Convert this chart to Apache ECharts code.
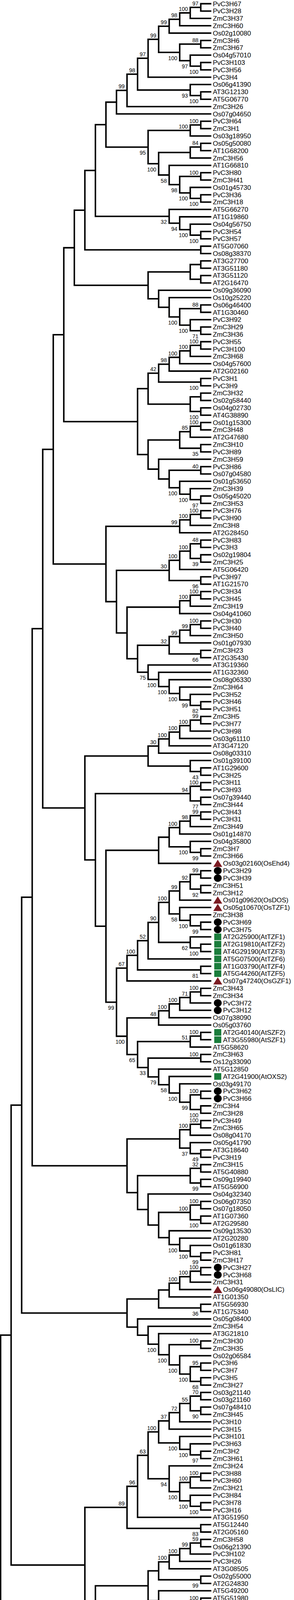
<!DOCTYPE html>
<html>
<head>
<meta charset="utf-8">
<script src="https://cdn.jsdelivr.net/npm/echarts@6/dist/echarts.min.js"></script>
<style>
html,body{margin:0;padding:0;background:#ffffff;}
#chart{width:752px;height:5743px;}
</style>
</head>
<body>
<div id="chart"></div>
<script>
// ---------------- DATA: tree topology (Newick pieces, bootstrap values as node labels) ----------------
const cladeA = "(((((((((PvC3H67,PvC3H28)97,ZmC3H37)100,ZmC3H60)98,Os02g10080)99,((ZmC3H6,ZmC3H67)88,(Os04g57010,(PvC3H103,PvC3H56)100)97)100)99,PvC3H4)97,(Os06g41390,(AT3G12130,AT5G06770)100)93)98,ZmC3H26)99,Os07g04650)";
const cladeB = "(((PvC3H64,ZmC3H1)100,Os03g18950)100,(((Os05g50080,AT1G68200)84,ZmC3H56),(AT1G66810,((PvC3H80,ZmC3H41)100,(Os01g45730,(PvC3H36,ZmC3H18)100)100)98)58)100)95";
const cladeC = "(AT5G66270,(AT1G19860,(Os04g56750,(PvC3H54,PvC3H57)100)100)94)32";
const cladeC2 = "(AT5G07060,Os08g38370)";
const cladeD = "(((AT3G27700,AT3G51180),(AT3G51120,AT2G16470)),(Os09g36090,(Os10g25220,((Os06g46400,AT1G30460)88,(PvC3H92,(ZmC3H29,ZmC3H36)71)100)100)))";
const cladeE1 = "((((((PvC3H55,PvC3H100)100,ZmC3H68)100,Os04g57600)100,AT2G02160)98,(PvC3H1,PvC3H9)100)42,((ZmC3H32,Os02g58440),(Os04g02730,AT4G38890)100))";
const cladeE2 = "((((Os01g15300,ZmC3H48)100,AT2G47680)85,(ZmC3H10,PvC3H89)35),(ZmC3H59,((PvC3H86,Os07g04580)40,(Os01g53650,(ZmC3H39,(Os05g45020,ZmC3H53)97)100)100)))";
const cladeF = "(((PvC3H76,PvC3H90)100,ZmC3H8)100,AT2G28450)99";
const cladeG4 = "((((PvC3H83,PvC3H3)48,(Os02g19804,ZmC3H25)39)100,AT5G06420)100,(PvC3H97,AT1G21570)96)30";
const cladeG7 = "(((((PvC3H30,PvC3H40)100,ZmC3H50)99,Os01g07930)99,(ZmC3H23,AT2G35430)66)32,(AT3G19360,(AT1G32360,(Os08g06330,(ZmC3H64,(PvC3H52,(PvC3H46,PvC3H51)82)99)100)100)100)75)";
const cladeG3 = "(((PvC3H34,PvC3H45)100,ZmC3H19)100,Os04g41060)";
const cladeH6 = "((((((ZmC3H5,PvC3H77)99,PvC3H98)100,Os03g61110)100,AT3G47120)100,Os08g03310)30,(Os01g39100,(AT1G29600,PvC3H25)43))";
const cladeH2 = "((PvC3H11,PvC3H93)100,(Os07g39440,ZmC3H44)77)94";
const cladeH5 = "(((((PvC3H43,PvC3H31)99,ZmC3H49)98,Os01g14870)100,(Os04g35800,(ZmC3H7,ZmC3H66)99)100),Os03g02160)";
const cladeH8a = "((((((((PvC3H29,PvC3H39)99,(ZmC3H51,ZmC3H12)92)92,Os01g09620)99,(Os05g10670,(ZmC3H38,(PvC3H69,PvC3H75)99)100)58)100,(AT2G25900,(AT2G19810,AT4G29190)100)62)90,AT5G07500)52,(AT1G03790,AT5G44260)81)100,Os07g47240)67";
const cladeH8b = "((((((ZmC3H43,ZmC3H34)100,PvC3H72)71,PvC3H12)100,Os07g38090)100,Os05g03760)48,(((AT2G40140,AT3G55980)100,AT5G58620)51,((ZmC3H63,Os12g33090)100,(AT5G12850,(AT2G41900,(Os03g49170,((PvC3H62,PvC3H66)100,(ZmC3H4,ZmC3H28)100)99)100)58)79)33)65)100";
const cladeI3 = "(((PvC3H49,ZmC3H65)100,Os08g04170)100,(Os05g41790,(AT3G18640,PvC3H19)49)37)";
const cladeI7 = "(((ZmC3H15,AT5G40880)32,(Os09g19940,AT5G56900)99),(Os04g32340,(((Os06g07350,Os07g18050)100,(AT1G07360,AT2G29580)100)100,(Os09g13530,(AT2G20280,(Os01g61830,(PvC3H81,ZmC3H17)99)100)100))))";
const cladeJ5 = "(((((PvC3H27,PvC3H68)100,ZmC3H31)100,Os06g49080)100,AT1G01350),(AT5G56930,AT1G75340)36)";
const cladeJ7 = "(Os05g08400,(ZmC3H54,(AT3G21810,((ZmC3H30,ZmC3H35)100,(Os02g06584,((PvC3H6,PvC3H7)95,(PvC3H5,ZmC3H27)68)100)100)100)100))";
const cladeK8 = "((((((((Os03g21140,Os03g21160)70,(Os07g48410,ZmC3H45)90)55,PvC3H10)72,PvC3H15)37,(PvC3H101,(PvC3H63,(ZmC3H2,ZmC3H61)97)100)100)100,(ZmC3H24,(((PvC3H88,PvC3H60)100,ZmC3H21)100,(PvC3H84,(PvC3H78,PvC3H16)100)100)100)94)63,AT3G51950)96,(AT5G12440,AT2G05160)83)89";
const cladeK6 = "((((((ZmC3H58,Os06g21390)59,PvC3H102)99,PvC3H26)100,AT3G08505)100,(Os02g55000,AT2G24830)99),(AT5G49200,((AT5G51980,AT4G25440)100,(Os02g45480,(ZmC3H33,(PvC3H2,PvC3H95)100)93)100)100)100)";
const cladeK10 = "(PvC3H94,(((PvC3H8,Os02g35150)100,AT1G10320)100,(PvC3H96,(((((ZmC3H42,PvC3H14)96,PvC3H85)100,Os09g31482)96,(AT1G27650,AT5G42820)100)54,(Os05g48960,((PvC3H37,PvC3H73)100,(((ZmC3H11,ZmC3H40)94,ZmC3H52)72,(PvC3H47,(PvC3H50,(PvC3H87,PvC3H17)58)99)74)100)83)99)99)100)67)35";
const cladeL1 = "(Os12g03554,AT2G33835)";
const cladeL3 = "(((PvC3H48,PvC3H53)100,PvC3H22),AT1G29570)";
const cladeL2 = "((PvC3H65,PvC3H61)100,PvC3H74)99";
const cladeL1b = "(PvC3H70,Os06g32720)66";
const cladeL6 = "((((((PvC3H35,PvC3H44)100,ZmC3H20)100,Os01g42970)83,ZmC3H55)99,AT3G12680)97,PvC3H18)97";
const cladeL4 = "((((PvC3H23,ZmC3H62)98,PvC3H20)93,PvC3H58)51,Os12g18120)100";
const cladeL5 = "(((((PvC3H32,PvC3H42)100,(ZmC3H13,ZmC3H47)87)100,Os01g15350)100,(Os01g15460,((PvC3H33,PvC3H41)100,(ZmC3H14,ZmC3H46)94)100)100)100,(AT2G47850,(AT3G06410,AT5G18550)100)91)97";
const cladeL2b = "((AT1G48195,AT3G48440)59,AT5G63260)98";
const cladeL7 = "(((((PvC3H38,PvC3H71)100,(ZmC3H16,ZmC3H57)69)90,Os01g68860)100,PvC3H13)72,((AT3G02830,AT5G16540)99,((((PvC3H79,PvC3H24)96,PvC3H21)100,Os12g21700)100,(Os11g28270,((ZmC3H22,ZmC3H9)97,(PvC3H59,(PvC3H82,PvC3H91)93)80)93)100)100)73)93";

// marked genes: [gene id, functional name]
const redTriangle = [["Os03g02160","OsEhd4"],["Os01g09620","OsDOS"],["Os05g10670","OsTZF1"],["Os07g47240","OsGZF1"],["Os06g49080","OsLIC"],["Os01g68860","OsC3H12"]];
const greenSquare = [["AT2G25900","AtTZF1"],["AT2G19810","AtTZF2"],["AT4G29190","AtTZF3"],["AT5G07500","AtTZF6"],["AT1G03790","AtTZF4"],["AT5G44260","AtTZF5"],["AT2G40140","AtSZF2"],["AT3G55980","AtSZF1"],["AT2G41900","AtOXS2"],["AT2G33835","AtFES1"],["AT3G12680","AtHUA1"]];
const blackCircle = ["PvC3H29","PvC3H39","PvC3H69","PvC3H75","PvC3H72","PvC3H12","PvC3H62","PvC3H66","PvC3H27","PvC3H68","PvC3H35","PvC3H44","PvC3H18","PvC3H38","PvC3H71","PvC3H13"];

// ---------------- assemble tree ----------------
const P = (a,b,lab) => "(" + a + "," + b + ")" + (lab||"");
const n10 = P(cladeA, cladeB);
const n11 = P(n10, cladeC);
const n12 = P(n11, cladeC2);
const n13 = P(n12, cladeD);
const n14 = P(n13, P(cladeE1, cladeE2));
const g9 = P(cladeG4, P(cladeG3, cladeG7));
const n15 = P(n14, P(cladeF, g9));
const h10 = P(cladeH5, P(cladeH8a, cladeH8b, "99"));
const h12 = P(cladeH6, P(cladeH2, h10));
const n16 = P(n15, h12);
const n17 = P(n16, P(cladeI3, cladeI7));
const n18 = P(n17, P(cladeJ5, cladeJ7));
const n19 = P(n18, P(cladeK8, P(cladeK6, cladeK10)));
const l9 = P(cladeL5, P(cladeL2b, cladeL7, "63"), "79");
const l10 = P("(AT1G04990,AT2G32930)100", l9, "74");
const l12 = P(cladeL6, P(cladeL4, l10, "94"));
const l13 = P(cladeL1b, l12);
const l14 = P(cladeL2, l13, "36");
const l15 = P("ZmC3H3", l14, "74");
const l16 = P("Os06g32860", l15, "51");
const l18 = P(cladeL1, P(cladeL3, l16));
const treeNewick = P(n19, l18);

function parseNewick(s){
  let i = 0;
  const tok = () => { let t=""; while(i<s.length && /[A-Za-z0-9_.]/.test(s[i])) t+=s[i++]; return t; };
  function node(){
    const n = {children:[], name:"", label:""};
    if(s[i]==="("){
      i++;
      n.children.push(node());
      while(s[i]===","){ i++; n.children.push(node()); }
      i++;
      n.label = tok();
    } else {
      n.name = tok();
    }
    return n;
  }
  return node();
}

const root = parseNewick(treeNewick);
const leaves = [], internals = [];
(function layout(n){
  if(!n.children.length){ n.h = 0; n.y = leaves.length; leaves.push(n); return; }
  n.children.forEach(c => { c.parent = n; layout(c); });
  n.h = 1 + Math.max.apply(null, n.children.map(c => c.h));
  n.y = (n.children[0].y + n.children[n.children.length-1].y) / 2;
  internals.push(n);
})(root);

const markType = {}, alias = {};
redTriangle.forEach(d => { markType[d[0]] = 1; alias[d[0]] = d[1]; });
greenSquare.forEach(d => { markType[d[0]] = 2; alias[d[0]] = d[1]; });
blackCircle.forEach(d => { markType[d] = 3; });

const branchData = [];
internals.forEach(n => {
  const c0 = n.children[0], c1 = n.children[n.children.length-1];
  branchData.push([-n.h, c0.y, c1.y, -c0.h, -c1.h]);
  for(let k=1;k<n.children.length-1;k++){
    const c = n.children[k];
    branchData.push([-n.h, c.y, c.y, -c.h, -c.h]);
  }
});
const supportData = [];
internals.forEach(n => {
  if(n.label && n.parent){
    const top = n.parent.children[0] === n ? 0 : 1;
    supportData.push([-n.h, n.y, Number(n.label), top]);
  }
});
const leafData = leaves.map((l, i) => [0, i, markType[l.name] || 0]);
const leafText = leaves.map(l => alias[l.name] ? l.name + "(" + alias[l.name] + ")" : l.name);

// ---------------- chart ----------------
const W = 752, H = 5743;
const TIP_PX = 540.5, STEP_PX = 26.95, TOP_PX = 9.5, ROW_PX = 18.81;
const FONT = "'Liberation Sans', Arial, Helvetica, sans-serif";

const chart = echarts.init(document.getElementById('chart'), null, {renderer:'svg', width:W, height:H});
chart.setOption({
  animation: false,
  backgroundColor: '#ffffff',
  grid: {left:0, right:0, top:0, bottom:0, containLabel:false},
  xAxis: {type:'value', min: -TIP_PX/STEP_PX, max: (W-TIP_PX)/STEP_PX, show:false},
  yAxis: {type:'value', min: -TOP_PX/ROW_PX, max: (H-TOP_PX)/ROW_PX, inverse:true, show:false},
  series: [
    {
      type:'custom', coordinateSystem:'cartesian2d', silent:true, data: branchData,
      renderItem: function(params, api){
        const xn = api.value(0), y1 = api.value(1), y2 = api.value(2), x1 = api.value(3), x2 = api.value(4);
        return {
          type:'polyline',
          shape:{points:[api.coord([x1,y1]), api.coord([xn,y1]), api.coord([xn,y2]), api.coord([x2,y2])]},
          style:{stroke:'#000000', lineWidth:3.8, fill:'none', lineJoin:'miter', lineCap:'butt'}
        };
      }
    },
    {
      type:'custom', coordinateSystem:'cartesian2d', silent:true, data: supportData,
      renderItem: function(params, api){
        const p = api.coord([api.value(0), api.value(1)]);
        const top = api.value(3) === 0;
        return {
          type:'text', x: p[0] - 6, y: p[1] + (top ? -10 : 14.5),
          style:{text: String(api.value(2)), fill:'#000000', fontSize:14, fontFamily:FONT, align:'right', verticalAlign:'middle'}
        };
      }
    },
    {
      type:'custom', coordinateSystem:'cartesian2d', silent:true, data: leafData,
      renderItem: function(params, api){
        const p = api.coord([api.value(0), api.value(1)]);
        const t = api.value(2);
        const cx = p[0] + 16.5, y = p[1];
        const kids = [];
        if(t === 1){
          kids.push({type:'polygon', shape:{points:[[cx-11.5,y+9],[cx+11.5,y+9],[cx,y-9.5]]}, style:{fill:'#7b1b22'}});
        } else if(t === 2){
          kids.push({type:'rect', shape:{x:cx-9, y:y-8.5, width:18, height:17}, style:{fill:'#1a7d3c'}});
        } else if(t === 3){
          kids.push({type:'ellipse', shape:{cx:cx, cy:y, rx:10, ry:9.6}, style:{fill:'#000000'}});
        }
        kids.push({
          type:'text', x: p[0] + (t ? 30 : 4), y: y + 0.5,
          style:{text: leafText[params.dataIndex], fill:'#000000', fontSize:17, fontFamily:FONT, align:'left', verticalAlign:'middle'}
        });
        return {type:'group', children:kids};
      }
    }
  ]
});
</script>
</body>
</html>
